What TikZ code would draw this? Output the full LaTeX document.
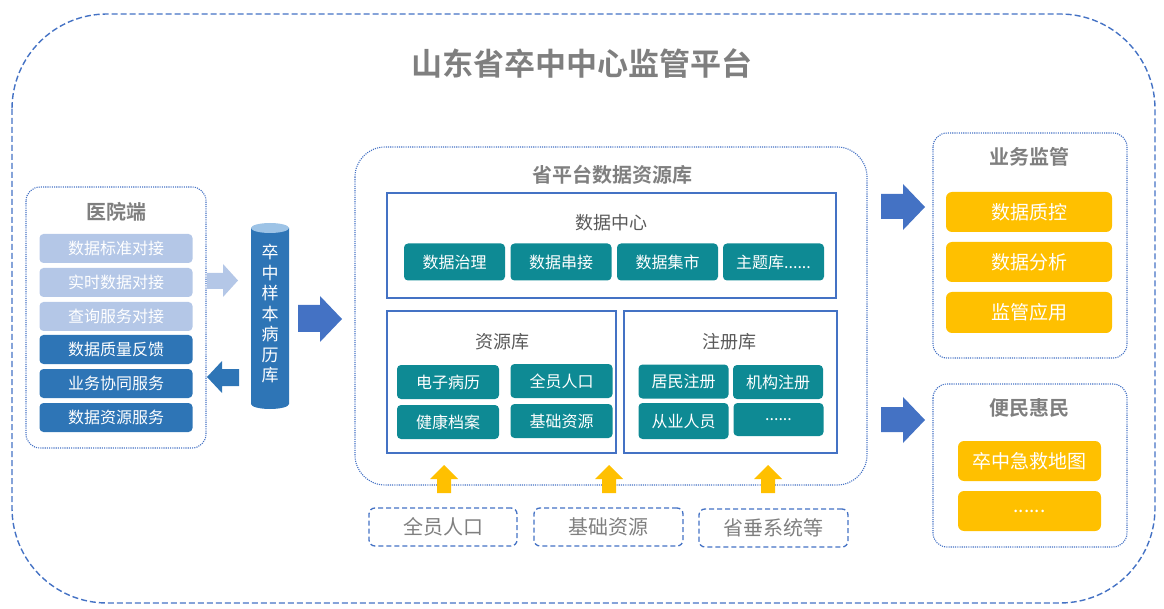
\documentclass[tikz,border=0pt]{standalone}
\usepackage{fontspec}
\newfontfamily\cjk{Noto Sans CJK SC}
\newfontfamily\cjkb{Noto Sans CJK SC Bold}
\begin{document}
\begin{tikzpicture}[x=1pt,y=-1pt]
\definecolor{bord}{HTML}{4472C4}
\definecolor{ttl}{HTML}{7F7F7F}
\definecolor{dtext}{HTML}{595959}
\definecolor{lblue}{HTML}{B4C7E7}
\definecolor{mblue}{HTML}{2E75B6}
\definecolor{teal}{HTML}{0E8A94}
\definecolor{yel}{HTML}{FFC000}
\definecolor{cyltop}{HTML}{9DC3E6}
\tikzset{
  every node/.style={inner sep=0pt,outer sep=0pt},
  dotbox/.style={draw=bord,line width=1.1pt,dash pattern=on 1.1pt off 1.1pt,rounded corners=14pt},
  solbox/.style={draw=bord,line width=1.6pt},
  dashbox/.style={draw=bord,line width=1.3pt,dash pattern=on 5pt off 3pt,rounded corners=6pt},
  ttlb/.style={font=\cjkb\fontsize{20}{22}\selectfont,text=ttl},
  sub/.style={font=\cjk\fontsize{18}{20}\selectfont,text=dtext},
  item/.style={rounded corners=4pt,text=white,font=\cjk\fontsize{16}{18}\selectfont},
  hitem/.style={item,minimum width=153pt,minimum height=29pt},
  titem/.style={item,fill=teal,minimum width=101pt,minimum height=37pt},
  ritem/.style={item,fill=teal,minimum width=102pt,minimum height=34pt},
  gitem/.style={item,fill=teal,minimum width=90pt,minimum height=34pt},
  yitem/.style={item,fill=yel,font=\cjk\fontsize{19}{21}\selectfont,rounded corners=6pt},
  bottxt/.style={font=\cjk\fontsize{20}{22}\selectfont,text=ttl},
}
\useasboundingbox (0,0) rectangle (1164,609);
% outer frame
\draw[draw=bord,line width=1.4pt,dash pattern=on 6pt off 3pt,rounded corners=95pt] (12,14) rectangle (1155,603);
\node[font=\cjkb\fontsize{31}{34}\selectfont,text=ttl] (main) at (582,63) {山东省卒中中心监管平台};

% hospital side
\draw[dotbox] (26,187) rectangle (206,448);
\node[ttlb] (hosp) at (116,212) {医院端};
\node[hitem,fill=lblue] (h1) at (116,248.5) {数据标准对接};
\node[hitem,fill=lblue] (h2) at (116,282.5) {实时数据对接};
\node[hitem,fill=lblue] (h3) at (116,316.5) {查询服务对接};
\node[hitem,fill=mblue] (h4) at (116,349.5) {数据质量反馈};
\node[hitem,fill=mblue] (h5) at (116,383.5) {业务协同服务};
\node[hitem,fill=mblue] (h6) at (116,417.5) {数据资源服务};

% arrows hospital <-> cylinder
\fill[lblue] (207,273) -- (223,273) -- (223,264) -- (238,280.5) -- (223,297) -- (223,289) -- (207,289) -- cycle;
\fill[mblue] (239,369) -- (222,369) -- (222,361) -- (207,377) -- (222,393) -- (222,386) -- (239,386) -- cycle;

% cylinder
\fill[mblue] (251,228) -- (251,404) arc[start angle=180,end angle=360,x radius=19,y radius=-5] -- (289,228) -- cycle;
\fill[cyltop] (270,228) ellipse[x radius=19,y radius=5];
\node[font=\cjk\fontsize{17}{20.5}\selectfont,text=white,align=center] (cyl) at (270,314) {卒\\中\\样\\本\\病\\历\\库};

% arrow cylinder -> platform
\fill[bord] (298,305) -- (320,305) -- (320,296) -- (342,319) -- (320,342) -- (320,332) -- (298,332) -- cycle;

% central platform
\draw[dotbox,rounded corners=30pt] (355,147) rectangle (867,485);
\node[ttlb] (plat) at (612,175) {省平台数据资源库};
\draw[solbox] (387,193) rectangle (836,298);
\node[sub] (dc) at (611,223) {数据中心};
\node[titem] (d1) at (454.5,262) {数据治理};
\node[titem] (d2) at (561,262) {数据串接};
\node[titem] (d3) at (667.5,262) {数据集市};
\node[titem] (d4) at (773.5,262) {主题库......};

\draw[solbox] (387,311) rectangle (616,453);
\node[sub] (res) at (502,342) {资源库};
\node[ritem] (r1) at (448,382) {电子病历};
\node[ritem] (r2) at (561.5,381) {全员人口};
\node[ritem] (r3) at (448,422) {健康档案};
\node[ritem] (r4) at (561.5,421) {基础资源};

\draw[solbox] (624,311) rectangle (837,453);
\node[sub] (reg) at (729,342) {注册库};
\node[gitem] (g1) at (683.5,381.5) {居民注册};
\node[gitem] (g2) at (778,382) {机构注册};
\node[gitem,minimum height=36pt] (g3) at (683.5,421) {从业人员};
\node[gitem,minimum height=33pt] (g4) at (778.5,419.5) {......};

% sources
\node[dashbox,minimum width=148pt,minimum height=38pt,bottxt] (s1) at (443,527) {全员人口};
\node[dashbox,minimum width=149pt,minimum height=38pt,bottxt] (s2) at (608.5,527) {基础资源};
\node[dashbox,minimum width=149pt,minimum height=38pt,bottxt] (s3) at (773.5,528) {省垂系统等};
\foreach \cx in {444,609,768}{
  \fill[yel] (\cx-7,493) -- (\cx-7,479) -- (\cx-14,479) -- (\cx,465) -- (\cx+14,479) -- (\cx+7,479) -- (\cx+7,493) -- cycle;
}

% right side arrows
\fill[bord] (881,194) -- (903,194) -- (903,184) -- (925,207) -- (903,230) -- (903,219) -- (881,219) -- cycle;
\fill[bord] (881,407) -- (903,407) -- (903,397) -- (925,420) -- (903,443) -- (903,432) -- (881,432) -- cycle;

% business supervision
\draw[dotbox] (933,133) rectangle (1127,358);
\node[ttlb] (biz) at (1029,157) {业务监管};
\node[yitem,minimum width=166pt,minimum height=40pt] (b1) at (1029,212) {数据质控};
\node[yitem,minimum width=166pt,minimum height=40pt] (b2) at (1029,262) {数据分析};
\node[yitem,minimum width=166pt,minimum height=41pt] (b3) at (1029,312.5) {监管应用};

% public service
\draw[dotbox] (933,384) rectangle (1127,547);
\node[ttlb] (pub) at (1029,408) {便民惠民};
\node[yitem,minimum width=143pt,minimum height=40pt] (p1) at (1029.5,461) {卒中急救地图};
\node[yitem,minimum width=143pt,minimum height=40pt] (p2) at (1029.5,511) {......};
\end{tikzpicture}
\end{document}
